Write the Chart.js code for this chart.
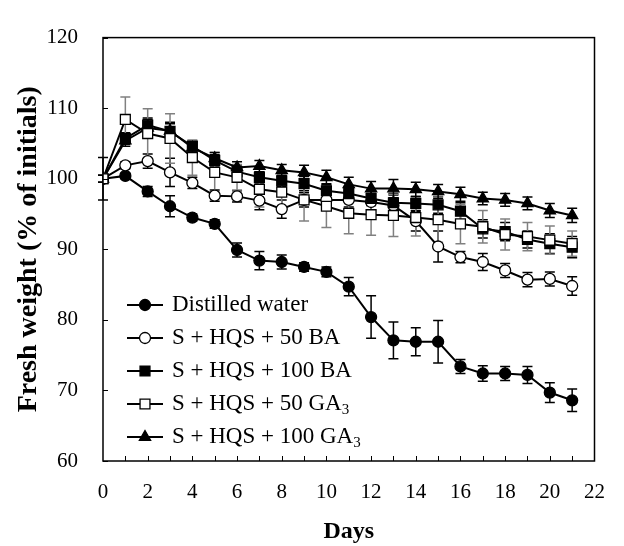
<!DOCTYPE html>
<html>
<head>
<meta charset="utf-8">
<script src="https://cdn.jsdelivr.net/npm/chart.js@4.4.0/dist/chart.umd.min.js"></script>
<style>
  html, body { margin: 0; padding: 0; background: #fff; }
  #wrap { width: 624px; height: 546px; }
</style>
</head>
<body>
<div id="wrap"><canvas id="myChart" width="624" height="546"></canvas></div>
<script>
// x axis (days) and y axis ticks
var days = [0,1,2,3,4,5,6,7,8,9,10,11,12,13,14,15,16,17,18,19,20,21];
var x_ticks = [0,2,4,6,8,10,12,14,16,18,20,22];
var y_ticks = [60,70,80,90,100,110,120];

// series names (legend)
var legend_names = ['Distilled water', 'S + HQS + 50 BA', 'S + HQS + 100 BA', 'S + HQS + 50 GA', 'S + HQS + 100 GA'];
var legend_subs = ['', '', '', '3', '3'];

// fresh weight (% of initials) and error bars
var distilled = [100, 100.4, 98.2, 96.1, 94.5, 93.6, 89.9, 88.4, 88.2, 87.5, 86.8, 84.7, 80.4, 77.1, 76.9, 76.9, 73.4, 72.4, 72.4, 72.2, 69.7, 68.6];
var distilled_err = [3.0, 0.4, 0.7, 1.5, 0.5, 0.6, 1.0, 1.3, 1.0, 0.6, 0.7, 1.3, 3.0, 2.6, 2.0, 3.0, 1.0, 1.1, 1.0, 1.2, 1.4, 1.6];

var ba50 = [100, 101.9, 102.5, 100.9, 99.4, 97.6, 97.5, 96.9, 95.7, 97.0, 97.0, 97.0, 96.7, 96.2, 94.0, 90.4, 88.9, 88.2, 87.0, 85.7, 85.8, 84.8];
var ba50_err = [0.5, 0.5, 1.0, 2.0, 0.8, 0.8, 0.8, 1.3, 1.3, 1.0, 1.0, 1.0, 1.2, 1.5, 1.4, 2.2, 0.8, 1.2, 1.0, 1.0, 1.0, 1.3];

var ba100 = [100, 105.7, 107.6, 106.7, 104.6, 102.6, 101.0, 100.2, 99.7, 99.3, 98.3, 97.9, 97.2, 96.6, 96.5, 96.3, 95.4, 92.9, 92.5, 91.4, 90.8, 90.3];
var ba100_err = [0.5, 0.8, 1.0, 1.3, 0.8, 0.8, 0.8, 0.8, 0.8, 1.0, 1.0, 1.0, 1.0, 1.3, 1.0, 1.2, 1.2, 1.3, 1.3, 1.2, 1.4, 1.5];

var ga50 = [100, 108.4, 106.4, 105.7, 103.0, 100.9, 100.2, 98.5, 98.1, 97.0, 96.1, 95.1, 94.9, 94.8, 94.5, 94.2, 93.6, 93.2, 92.1, 91.8, 91.3, 90.8];
var ga50_err = [0.5, 3.2, 3.5, 3.5, 2.5, 2.8, 1.8, 2.5, 2.8, 3.0, 3.0, 2.9, 2.9, 3.0, 2.6, 3.2, 2.8, 2.3, 2.2, 2.0, 2.0, 1.8];

var ga100 = [100, 105.4, 107.2, 106.8, 104.4, 102.9, 101.6, 101.8, 101.2, 100.9, 100.2, 99.2, 98.6, 98.6, 98.5, 98.2, 97.8, 97.2, 97.0, 96.5, 95.5, 94.8];
var ga100_err = [0.5, 0.8, 1.2, 1.0, 0.8, 0.8, 0.8, 0.8, 0.8, 1.0, 1.0, 1.0, 1.0, 1.3, 1.0, 1.0, 1.0, 0.9, 0.9, 0.9, 1.0, 1.0];

var SERIF = "'Liberation Serif', 'Times New Roman', serif";

function to_points(vals) {
  return vals.map((v, i) => ({x: days[i], y: v}));
}

function make_set(label, vals, errs, style, radius, fill, err_color, order) {
  return {
    label: label,
    data: to_points(vals),
    errs: errs,
    errColor: err_color,
    borderColor: '#000',
    borderWidth: 2,
    pointStyle: style,
    pointRadius: radius,
    pointHoverRadius: radius,
    pointBackgroundColor: fill,
    pointBorderColor: '#000',
    pointBorderWidth: 1.3,
    tension: 0,
    fill: false,
    order: order
  };
}

var datasets = [
  make_set(legend_names[0], distilled, distilled_err, 'circle', 5.5, '#000', '#000', 5),
  make_set(legend_names[1], ba50, ba50_err, 'circle', 5.5, '#fff', '#000', 4),
  make_set(legend_names[2], ba100, ba100_err, 'rect', 7, '#000', '#000', 3),
  make_set(legend_names[3], ga50, ga50_err, 'rect', 7, '#fff', '#808080', 1),
  make_set(legend_names[4], ga100, ga100_err, 'triangle', 6.5, '#000', '#000', 2)
];

// error bars, drawn under the lines and markers
var errorBars = {
  id: 'errorBars',
  beforeDatasetsDraw(chart) {
    const ctx = chart.ctx;
    const xs = chart.scales.x, ys = chart.scales.y;
    ctx.save();
    chart.data.datasets.forEach(ds => {
      ctx.strokeStyle = ds.errColor;
      ctx.lineWidth = 1.5;
      ds.data.forEach((p, i) => {
        const e = ds.errs[i];
        const px = xs.getPixelForValue(p.x);
        const top = ys.getPixelForValue(p.y + e);
        const bot = ys.getPixelForValue(p.y - e);
        ctx.beginPath();
        ctx.moveTo(px, top); ctx.lineTo(px, bot);
        ctx.moveTo(px - 5, top); ctx.lineTo(px + 5, top);
        ctx.moveTo(px - 5, bot); ctx.lineTo(px + 5, bot);
        ctx.stroke();
      });
    });
    ctx.restore();
  }
};

// plot frame + inward tick marks
var frameTicks = {
  id: 'frameTicks',
  afterDraw(chart) {
    const ctx = chart.ctx;
    const a = chart.chartArea;
    const xs = chart.scales.x, ys = chart.scales.y;
    ctx.save();
    ctx.strokeStyle = '#000';
    ctx.lineWidth = 1.5;
    ctx.strokeRect(a.left, a.top, a.right - a.left, a.bottom - a.top);
    ctx.lineWidth = 1;
    ctx.beginPath();
    for (let d = 1; d < 22; d++) {
      const px = Math.round(xs.getPixelForValue(d)) + 0.5;
      ctx.moveTo(px, a.bottom); ctx.lineTo(px, a.bottom - 5);
    }
    y_ticks.forEach(v => {
      const py = Math.round(ys.getPixelForValue(v)) + 0.5;
      ctx.moveTo(a.left, py); ctx.lineTo(a.left + 5, py);
    });
    ctx.stroke();
    ctx.restore();
  }
};

// legend: line + marker + text, inside the plot
var insideLegend = {
  id: 'insideLegend',
  afterDraw(chart) {
    const ctx = chart.ctx;
    ctx.save();
    chart.data.datasets.forEach((ds, i) => {
      const y = 305 + i * 33;
      ctx.strokeStyle = '#000';
      ctx.lineWidth = 2;
      ctx.beginPath();
      ctx.moveTo(127, y); ctx.lineTo(163, y);
      ctx.stroke();
      ctx.fillStyle = ds.pointBackgroundColor;
      ctx.lineWidth = ds.pointBorderWidth;
      Chart.helpers.drawPoint(ctx, {pointStyle: ds.pointStyle, radius: ds.pointRadius, borderWidth: ds.pointBorderWidth, rotation: 0}, 145, y);
      ctx.fillStyle = '#000';
      ctx.textBaseline = 'middle';
      ctx.textAlign = 'left';
      ctx.font = '23px ' + SERIF;
      ctx.fillText(legend_names[i], 172, y);
      if (legend_subs[i]) {
        const w = ctx.measureText(legend_names[i]).width;
        ctx.font = '15px ' + SERIF;
        ctx.fillText(legend_subs[i], 172 + w, y + 6);
      }
    });
    ctx.restore();
  }
};

const ctx = document.getElementById('myChart');
new Chart(ctx, {
  type: 'line',
  data: { datasets: datasets },
  plugins: [errorBars, frameTicks, insideLegend],
  options: {
    responsive: false,
    animation: false,
    layout: { padding: { left: 0, right: 19, top: 19, bottom: 0 } },
    plugins: { legend: { display: false }, tooltip: { enabled: false } },
    scales: {
      x: {
        type: 'linear',
        min: 0, max: 22,
        afterBuildTicks: (s) => { s.ticks = x_ticks.map(v => ({value: v})); },
        afterFit: (s) => { s.height = 85; },
        grid: { display: false, drawTicks: false },
        border: { display: false },
        ticks: { color: '#000', padding: 19, maxRotation: 0, autoSkip: false, font: { family: SERIF, size: 21 } },
        title: { display: true, text: 'Days', color: '#000', padding: { top: 0, bottom: 0 }, font: { family: SERIF, size: 24, weight: 'bold' } }
      },
      y: {
        min: 60, max: 120,
        afterBuildTicks: (s) => { s.ticks = y_ticks.map(v => ({value: v})); },
        afterFit: (s) => { s.width = 103; },
        grid: { display: false, drawTicks: false },
        border: { display: false },
        ticks: { color: '#000', padding: 25, font: { family: SERIF, size: 21 } },
        title: { display: true, text: 'Fresh weight (% of initials)', color: '#000', padding: { top: 12, bottom: 0 }, font: { family: SERIF, size: 28, weight: 'bold' } }
      }
    }
  }
});
</script>
</body>
</html>
